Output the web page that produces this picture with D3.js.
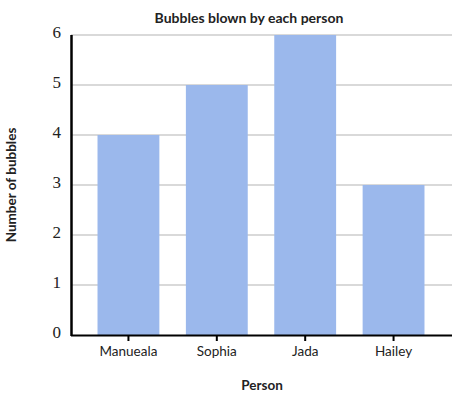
<!DOCTYPE html>
<html>
<head>
<meta charset="utf-8">
<script src="https://cdn.jsdelivr.net/npm/d3@7"></script>
<style>
  body { margin: 0; background: #fff; }
</style>
</head>
<body>
<div id="chart"></div>
<script>
// Data
var people = ['Manueala', 'Sophia', 'Jada', 'Hailey'];
var bubbles = [4, 5, 6, 3];
var yTicks = [0, 1, 2, 3, 4, 5, 6];

var svgWidth = 452;
var svgHeight = 396;

var margin = { top: 35, right: 1, bottom: 61, left: 71 };
var chartWidth = svgWidth - margin.left - margin.right;
var chartHeight = svgHeight - margin.top - margin.bottom;

var svg = d3.select('#chart')
    .append('svg')
    .attr('width', svgWidth)
    .attr('height', svgHeight)
    .style('font-family', 'Lato, sans-serif');

var chartGroup = svg.append('g')
    .attr('transform', `translate(${margin.left}, ${margin.top})`);

var xScale = d3.scaleBand()
    .domain(people)
    .range([0, chartWidth])
    .paddingInner(0.3)
    .paddingOuter(0.3);

var yScale = d3.scaleLinear()
    .domain([0, 6])
    .range([chartHeight, 0]);

// Gridlines
chartGroup.selectAll('.grid')
    .data(yTicks.slice(1))
    .enter()
    .append('line')
    .attr('x1', 0)
    .attr('x2', chartWidth + margin.right)
    .attr('y1', d => yScale(d))
    .attr('y2', d => yScale(d))
    .attr('stroke', '#cccccc')
    .attr('stroke-width', 1.5);

// Bars
chartGroup.selectAll('rect')
    .data(bubbles)
    .enter()
    .append('rect')
    .attr('x', (d, i) => xScale(people[i]))
    .attr('y', d => yScale(d))
    .attr('width', xScale.bandwidth())
    .attr('height', d => chartHeight - yScale(d))
    .attr('fill', '#9bb8ec');

// X axis
var xAxis = chartGroup.append('g')
    .attr('transform', `translate(0, ${chartHeight})`)
    .call(d3.axisBottom(xScale).tickSizeOuter(0).tickSize(6).tickPadding(5));
xAxis.select('.domain').attr('stroke', '#000').attr('stroke-width', 2)
    .attr('d', `M0,0.5H${chartWidth + margin.right}`);
xAxis.selectAll('.tick line').attr('stroke', '#000').attr('stroke-width', 2);
xAxis.selectAll('.tick text')
    .style('font-family', 'Lato, sans-serif')
    .style('font-size', '13.5px')
    .attr('fill', '#222');

// Y axis
var yAxis = chartGroup.append('g')
    .call(d3.axisLeft(yScale).tickValues(yTicks).tickFormat(d3.format('d')).tickSize(0).tickPadding(10));
yAxis.select('.domain').attr('stroke', '#000').attr('stroke-width', 2.5)
    .attr('d', `M0.5,0V${chartHeight + 1}`);
yAxis.selectAll('.tick text')
    .style('font-family', '"Liberation Serif", "DejaVu Serif", serif')
    .style('font-size', '17px')
    .attr('fill', '#222')
    .attr('dy', '0.15em');

// Title
svg.append('text')
    .attr('x', 249)
    .attr('y', 23)
    .attr('text-anchor', 'middle')
    .style('font-size', '14px')
    .attr('font-weight', 'bold')
    .attr('fill', '#222')
    .text('Bubbles blown by each person');

// Axis labels
svg.append('text')
    .attr('x', 262)
    .attr('y', 390)
    .attr('text-anchor', 'middle')
    .style('font-size', '13.5px')
    .attr('font-weight', 'bold')
    .attr('fill', '#222')
    .text('Person');

svg.append('text')
    .attr('transform', 'translate(16, 185) rotate(-90)')
    .attr('text-anchor', 'middle')
    .style('font-size', '13.5px')
    .attr('font-weight', 'bold')
    .attr('fill', '#222')
    .text('Number of bubbles');
</script>
</body>
</html>
